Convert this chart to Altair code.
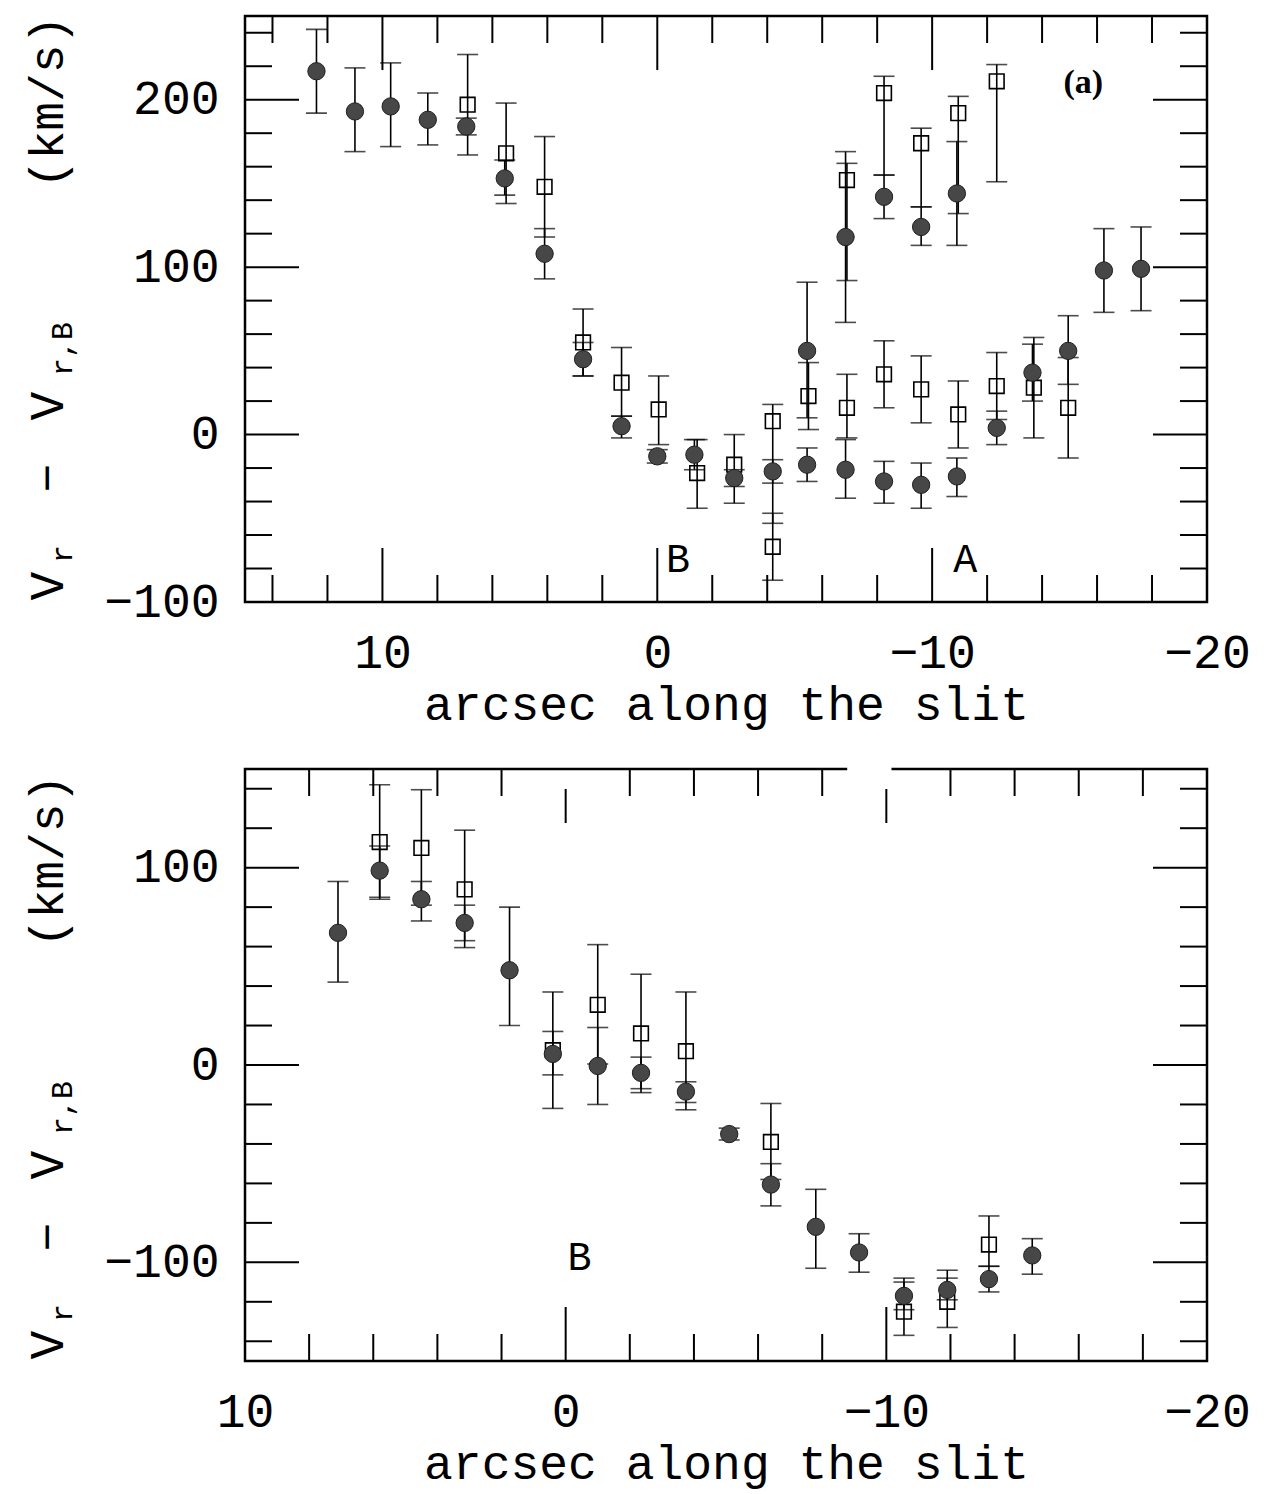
import altair as alt
import pandas as pd

FONT = "Liberation Mono"

# ---------------- panel (a): upper ----------------
top_circle_x  = [12.4, 11.0, 9.7, 8.35, 6.95, 5.55, 4.1, 2.7, 1.3, 0.0, -1.35, -2.8, -4.2,
                 -5.45, -5.45, -6.85, -6.85, -8.25, -8.25, -9.6, -9.6, -10.9, -10.9,
                 -12.35, -13.65, -14.95, -16.25, -17.6]
top_circle_y  = [217, 193, 196, 188, 184, 153, 108, 45, 5, -13, -12, -26, -22,
                 50, -18, 118, -21, 142, -28, 124, -30, 144, -25, 4, 37, 50, 98, 99]
top_circle_lo = [192, 169, 172, 173, 179, 143, 93, 35, -2, -17, -21, -31, -29,
                 10, -28, 67, -38, 129, -41, 113, -44, 113, -37, -6, 20, 30, 73, 74]
top_circle_hi = [242, 219, 222, 204, 189, 164, 123, 55, 11, -9, -3, -21, -15,
                 91, -8, 169, -3, 155, -16, 136, -17, 175, -14, 14, 54, 71, 123, 124]

top_square_x  = [6.9, 5.5, 4.1, 2.7, 1.3, -0.05, -1.45, -2.8, -4.2, -4.2, -5.5, -6.9, -6.9,
                 -8.25, -8.25, -9.6, -9.6, -10.95, -10.95, -12.35, -12.35, -13.7, -14.95]
top_square_y  = [197, 168, 148, 55, 31, 15, -23, -18, 8, -67, 23, 152, 16,
                 204, 36, 174, 27, 192, 12, 211, 29, 28, 16]
top_square_lo = [167, 138, 118, 35, 11, -6, -44, -41, -53, -87, 3, 92, -2,
                 155, 16, 136, 7, 132, -8, 151, 9, -2, -14]
top_square_hi = [227, 198, 178, 75, 52, 35, -3, 0, 18, -47, 43, 162, 36,
                 214, 56, 183, 47, 202, 32, 221, 49, 58, 46]

top_x_domain = [15, -20]
top_y_domain = [-100, 250]
top_x_labels = [10, 0, -10, -20]
top_y_labels = [200, 100, 0, -100]
top_x_minor = [14, 12, 8, 6, 4, 2, -2, -4, -6, -8, -12, -14, -16, -18]
top_x_major = [10, 0, -10]
top_y_minor = [240, 220, 180, 160, 140, 120, 80, 60, 40, 20, -20, -40, -60, -80]
top_y_major = [200, 100, 0]
top_text = ["B", "A", "(a)"]
top_text_x = [-0.75, -11.2, -15.5]
top_text_y = [-75, -75, 210]

# ---------------- panel (b): lower ----------------
bot_circle_x  = [7.1, 5.8, 4.5, 3.15, 1.75, 0.4, -1.0, -2.35, -3.75, -5.1, -6.4, -7.8,
                 -9.15, -10.55, -11.9, -13.2, -14.55]
bot_circle_y  = [67, 98.5, 84, 72, 48, 5.6, -0.5, -4, -13.5, -35, -60.6, -82,
                 -95, -117, -114, -108.5, -96.5]
bot_circle_lo = [42, 85, 73, 63, 20, -5, -20, -12, -19, -38, -71.4, -103,
                 -105, -124, -119, -115, -106]
bot_circle_hi = [93, 111, 93, 81, 80, 17, 19, 4, -8.5, -32, -50, -63,
                 -85.5, -110, -108, -102, -88]

bot_square_x  = [5.8, 4.5, 3.15, 0.4, -1.0, -2.35, -3.75, -6.4, -10.55, -11.9, -13.2]
bot_square_y  = [113, 110, 89, 7.5, 30.5, 16, 7, -39, -125, -120, -91]
bot_square_lo = [84, 81, 59.5, -22, 0.5, -14, -22.7, -58, -137, -133, -102]
bot_square_hi = [142, 139.5, 119, 37, 61, 46, 37, -19.5, -108, -104, -76.5]

bot_x_domain = [10, -20]
bot_y_domain = [-150, 150]
bot_x_labels = [10, 0, -10, -20]
bot_y_labels = [100, 0, -100]
bot_x_minor = [8, 6, 4, 2, -2, -4, -6, -8, -12, -14, -16, -18]
bot_x_major = [0, -10]
bot_y_minor = [140, 120, 80, 60, 40, 20, -20, -40, -60, -80, -120, -140]
bot_y_major = [100, 0, -100]
bot_text = ["B"]
bot_text_x = [-0.43]
bot_text_y = [-98]
bot_frame_gap = [-8.78, -10.16]   # break in the scanned upper frame line

W = 962
LEFT = 243
MINOR, MAJOR = 27, 54


def panel(cx, cy, clo, chi, sx, sy, slo, shi, xdom, ydom, xlab, ylab,
          xmin, xmaj, ymin, ymaj, tt, tx, ty, H, anchor_top, anchor_bottom,
          gap=None, title_dy=0):
    xs = alt.Scale(domain=xdom, nice=False, zero=False)
    ys = alt.Scale(domain=ydom, nice=False, zero=False)
    xaxis = alt.Axis(values=xlab, ticks=False, domain=False, grid=False,
                     labelFontSize=48, labelPadding=27, labelFlush=False,
                     labelOverlap=False, title="arcsec along the slit",
                     titleFontSize=48, titleFontWeight="normal", titlePadding=4)
    yaxis = alt.Axis(values=ylab, ticks=False, domain=False, grid=False,
                     labelFontSize=48, labelPadding=26, labelOverlap=False,
                     title=None)

    def X(f):
        return alt.X(f"{f}:Q", scale=xs, axis=xaxis)

    def Y(f):
        return alt.Y(f"{f}:Q", scale=ys, axis=yaxis)

    circ = pd.DataFrame({"x": cx, "y": cy, "lo": clo, "hi": chi})
    sq = pd.DataFrame({"x": sx, "y": sy, "lo": slo, "hi": shi})
    layers = []

    if gap is not None:
        gd = pd.DataFrame({"a": [gap[0]], "b": [gap[1]]})
        layers.append(alt.Chart(gd).mark_rule(color="white", strokeWidth=6).encode(
            x=X("a"), x2="b:Q", y=alt.value(0)))

    # inward ticks on all four sides
    for vals, ln in ((xmin, MINOR), (xmaj, MAJOR)):
        d = pd.DataFrame({"v": vals})
        layers.append(alt.Chart(d).mark_rule(color="black", strokeWidth=2).encode(
            x=X("v"), y=alt.value(H), y2=alt.value(H - ln)))
        start = 20 if (gap is not None and ln == MAJOR) else 0
        layers.append(alt.Chart(d).mark_rule(color="black", strokeWidth=2).encode(
            x=X("v"), y=alt.value(start), y2=alt.value(ln)))
    for vals, ln in ((ymin, MINOR), (ymaj, MAJOR)):
        d = pd.DataFrame({"v": vals})
        layers.append(alt.Chart(d).mark_rule(color="black", strokeWidth=2).encode(
            y=Y("v"), x=alt.value(0), x2=alt.value(ln)))
        layers.append(alt.Chart(d).mark_rule(color="black", strokeWidth=2).encode(
            y=Y("v"), x=alt.value(W), x2=alt.value(W - ln)))

    for df in (sq, circ):
        layers.append(alt.Chart(df).mark_rule(color="black", strokeWidth=1.6).encode(
            x=X("x"), y=Y("lo"), y2="hi:Q"))
        layers.append(alt.Chart(df).transform_fold(["lo", "hi"]).mark_tick(
            color="black", thickness=1.6, size=21, orient="horizontal").encode(
            x=X("x"), y=Y("value")))

    layers.append(alt.Chart(sq).mark_point(shape="square", size=215, filled=False,
                                           color="black", strokeWidth=1.6, opacity=1).encode(
        x=X("x"), y=Y("y")))
    layers.append(alt.Chart(circ).mark_point(shape="circle", size=300, filled=True,
                                             fill="#474747", stroke="#1e1e1e",
                                             strokeWidth=1, opacity=1).encode(
        x=X("x"), y=Y("y")))

    # panel annotations
    tdf = pd.DataFrame({"x": tx, "y": ty, "t": tt})
    letters = tdf[tdf["t"] != "(a)"]
    layers.append(alt.Chart(letters).mark_text(font=FONT, fontSize=40, color="black").encode(
        x=X("x"), y=Y("y"), text="t:N"))
    lab = tdf[tdf["t"] == "(a)"]
    if len(lab):
        layers.append(alt.Chart(lab).mark_text(font="Liberation Serif", fontSize=34,
                                               fontWeight="bold", color="black").encode(
            x=X("x"), y=Y("y"), text="t:N"))

    # y title pieces: V_r - V_r,B (km/s), rotated
    one = pd.DataFrame({"a": [0]})
    pieces = [("(km/s)", -196, 86, 48), ("V", -196, 390, 48), ("r,B", -182, 333, 30),
              ("\u2212", -196, 462, 48), ("V", -196, 570, 48), ("r", -182, 538, 30)]
    for t, px, py, fs in pieces:
        layers.append(alt.Chart(one).mark_text(font=FONT, fontSize=fs, angle=270,
                                               align="center", baseline="middle",
                                               color="black").encode(
            x=alt.value(px), y=alt.value(py + title_dy), text=alt.value(t)))

    # invisible layout anchors
    layers.append(alt.Chart(one).mark_rule(opacity=0, strokeWidth=0).encode(
        x=alt.value(-LEFT), x2=alt.value(-LEFT), y=alt.value(anchor_top),
        y2=alt.value(anchor_bottom)))

    return alt.layer(*layers).properties(width=W, height=H)


top = panel(top_circle_x, top_circle_y, top_circle_lo, top_circle_hi,
            top_square_x, top_square_y, top_square_lo, top_square_hi,
            top_x_domain, top_y_domain, top_x_labels, top_y_labels,
            top_x_minor, top_x_major, top_y_minor, top_y_major,
            top_text, top_text_x, top_text_y, 586, -14, 586 + 100)

bot = panel(bot_circle_x, bot_circle_y, bot_circle_lo, bot_circle_hi,
            bot_square_x, bot_square_y, bot_square_lo, bot_square_hi,
            bot_x_domain, bot_y_domain, bot_x_labels, bot_y_labels,
            bot_x_minor, bot_x_major, bot_y_minor, bot_y_major,
            bot_text, bot_text_x, bot_text_y, 592, -10, 0,
            gap=bot_frame_gap, title_dy=6)

chart = alt.vconcat(top, bot, spacing=26).properties(
    padding=0, background="white"
).configure_view(stroke="black", strokeWidth=2.5).configure_axis(
    labelFont=FONT, titleFont=FONT, labelColor="black", titleColor="black"
)

chart.save("out.html", embed_options={"renderer": "svg", "actions": False})
